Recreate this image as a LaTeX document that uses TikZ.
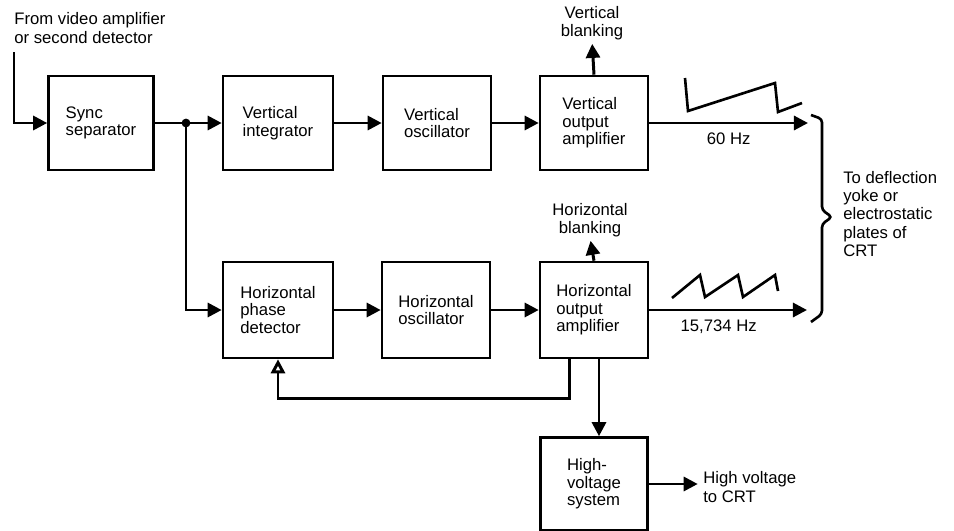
\documentclass[tikz,border=0pt]{standalone}
\usepackage{fontspec}
\setmainfont{Liberation Sans}
\usetikzlibrary{arrows.meta}

\begin{document}
\begin{tikzpicture}[x=0.02cm, y=-0.02cm,
  block/.style={draw, line width=1.5pt, minimum width=2.16cm, minimum height=1.88cm,
    align=left, inner sep=0pt, font=\fontsize{9.5}{10}\selectfont},
  lbl/.style={align=left, inner sep=0pt, font=\fontsize{9.5}{10.5}\selectfont},
  wire/.style={line width=1.7pt},
  feed/.style={wire, -{Triangle[length=8pt, width=8pt]}},
  wave/.style={line width=1.5pt, line join=miter}]
  \useasboundingbox (0,0) rectangle (954,531);

  % vertical chain
  \node[block, minimum width=2.1cm] (sync) at (101,123) {Sync\\separator};
  \node[block, minimum width=2.2cm] (vint) at (278,123) {Vertical\\integrator};
  \node[block] (vosc) at (437,123) {Vertical\\oscillator};
  \node[block] (vout) at (594,123) {Vertical\\output\\amplifier};

  % horizontal chain
  \node[block, minimum width=2.2cm, minimum height=1.92cm] (hpd) at (278,310) {Horizontal\\phase\\detector};
  \node[block, minimum height=1.92cm] (hosc) at (436,310) {Horizontal\\oscillator};
  \node[block, minimum height=1.92cm] (hout) at (594,310) {Horizontal\\output\\amplifier};
  \node[block, minimum width=2.14cm, minimum height=1.86cm] (hv) at (594,484) {High-\\voltage\\system};

  % labels
  \node[lbl, anchor=west] (src) at (14,28) {From video amplifier\\or second detector};
  \node[lbl, align=center] (vblank) at (592,23) {Vertical\\blanking};
  \node[lbl, align=center] (hblank) at (590,220) {Horizontal\\blanking};
  \node[lbl, anchor=west] (defl) at (843,214) {To deflection\\yoke or\\electrostatic\\plates of\\CRT};
  \node[lbl, anchor=west] (hvout) at (703,487) {High voltage\\to CRT};
  \coordinate (in) at (14,52);
  \coordinate (tap) at (186,123);
  \coordinate (vend) at (808,123);
  \coordinate (hend) at (807,310);

  % connectors
  \draw[feed] (in) |- (sync.west);
  \draw[feed] (sync) -- (vint);
  \fill (tap) circle (2.5pt);
  \draw[feed] (tap) |- (hpd.west);
  \draw[feed] (vint) -- (vosc);
  \draw[feed] (vosc) -- (vout);
  \draw[feed, shorten >=2pt] (vout.north) -- (vblank.south);
  \draw[feed] (vout.east) -- (vend) node[lbl, midway, below=5pt] {60 Hz};
  \draw[feed] (hpd) -- (hosc);
  \draw[feed] (hosc) -- (hout);
  \draw[feed, shorten >=2pt] (hout.north) -- (hblank.south);
  \draw[feed] (hout.east) -- (hend) node[lbl, pos=0.44, below=5pt] {15,734 Hz};
  \draw[wire, -{Triangle[open, fill=white, length=8pt, width=8pt]}]
    ([xshift=-0.5cm]hout.south) -- ++(0,39) -| (hpd.south);
  \draw[feed] ([xshift=0.1cm]hout.south) -- ([xshift=0.1cm]hv.north);
  \draw[feed, shorten >=3pt] (hv.east) -- (hv.east -| hvout.west);

  % waveforms
  \draw[wave] (685,78) -- (688,111) -- (775,83) -- (778,112) -- (802,103);
  \draw[wave] (672,298) -- (700,275) -- (705,297) -- (738,275) -- (743,297)
    -- (775,275) -- (778,291);

  % brace
  \draw[wave, rounded corners=2pt] (811,115) -- (822,119) -- (822,210) -- (832,217)
    -- (822,224) -- (822,314) -- (811,322);
\end{tikzpicture}
\end{document}
